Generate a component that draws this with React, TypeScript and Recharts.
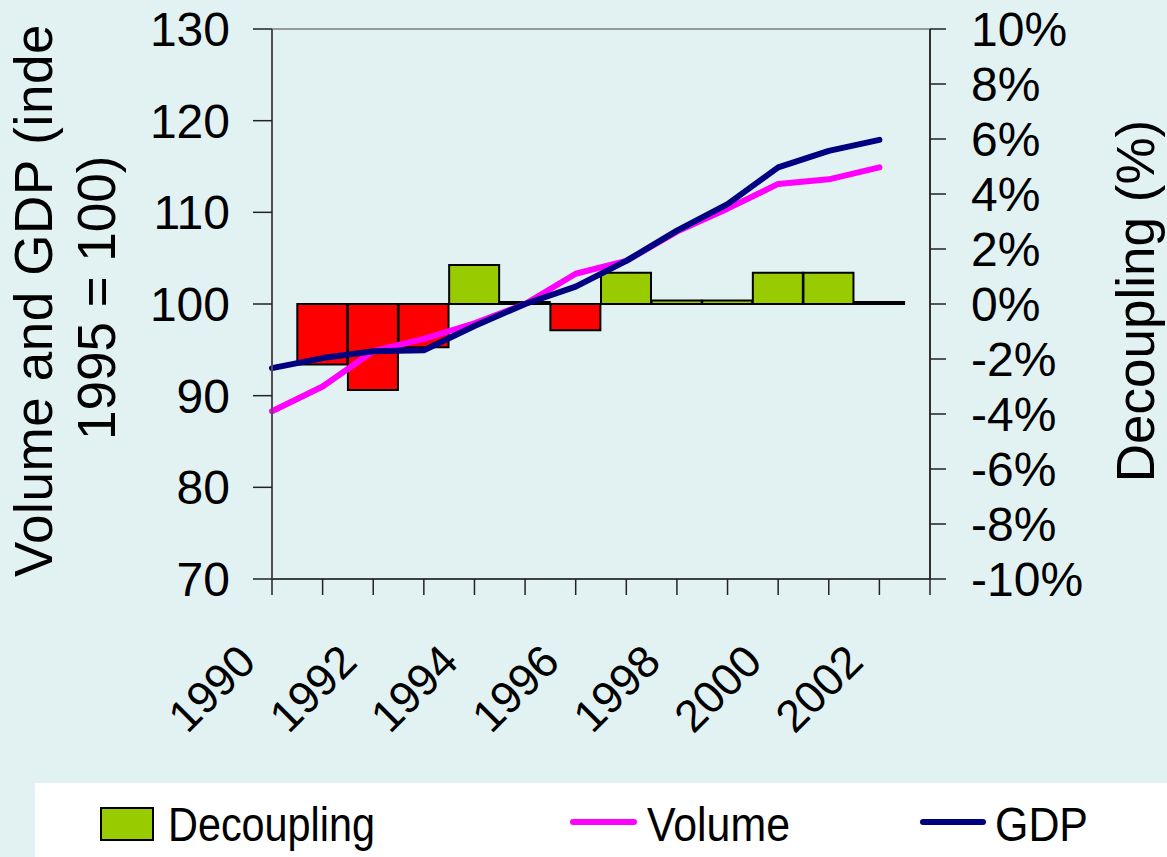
import React from 'react';
import { ComposedChart, Bar, Line, XAxis, YAxis, Cell, ReferenceLine } from 'recharts';

const FONT = '"Liberation Sans", Arial, Helvetica, sans-serif';

// Data
const years = [1990, 1991, 1992, 1993, 1994, 1995, 1996, 1997, 1998, 1999, 2000, 2001, 2002];
const volume = [88.3, 91.0, 94.85, 96.2, 97.9, 100, 103.3, 104.7, 107.9, 110.4, 113.1, 113.6, 114.9];
const gdp = [93.0, 94.1, 94.85, 94.95, 97.6, 100, 101.9, 104.7, 108.0, 110.9, 114.9, 116.7, 117.9];
const decoupling: (number | null)[] = [null, -2.2, -3.13, -1.57, 1.42, 0.07, -0.95, 1.14, 0.13, 0.13, 1.14, 1.14, 0.07];

const xTicks = [1990, 1991, 1992, 1993, 1994, 1995, 1996, 1997, 1998, 1999, 2000, 2001, 2002, 2003];
const leftTicks = [70, 80, 90, 100, 110, 120, 130];
const rightTicks = [-10, -8, -6, -4, -2, 0, 2, 4, 6, 8, 10];
const leftTitle = ['Volume and GDP (inde', '1995 = 100)'];
const rightTitle = 'Decoupling (%)';
const seriesNames = ['Decoupling', 'Volume', 'GDP'];

const COLORS = {
  bg: '#E2F2F3',
  pos: '#99CC00',
  neg: '#FF0000',
  volume: '#FF00FF',
  gdp: '#000080',
};

const data = years.map((y, i) => ({
  year: y,
  volume: volume[i],
  gdp: gdp[i],
  decoupling: decoupling[i],
}));

const XTick = (props: any) => {
  const { x, y, payload } = props;
  if (payload.value % 2 !== 0) return <g />;
  const ax = x - 14;
  const ay = y + 67;
  return (
    <text
      x={ax}
      y={ay}
      transform={`rotate(-45 ${ax} ${ay})`}
      textAnchor="end"
      fontSize={45}
      fill="#000"
      fontFamily={FONT}
    >
      {payload.value}
    </text>
  );
};

const LeftTitle = () => (
  <g fontFamily={FONT} fontSize={53} fill="#000">
    <text transform="translate(52,577) rotate(-90)" textAnchor="start" letterSpacing={0.6}>
      {leftTitle[0]}
    </text>
    <text transform="translate(115,440) rotate(-90)" textAnchor="start">
      {leftTitle[1]}
    </text>
  </g>
);

const RightTitle = () => (
  <text
    transform="translate(1154,301) rotate(-90)"
    textAnchor="middle"
    fontFamily={FONT}
    fontSize={53}
    fill="#000"
  >
    {rightTitle}
  </text>
);

const LegendBox = () => (
  <svg
    width={1167}
    height={857}
    style={{ position: 'absolute', left: 0, top: 0, pointerEvents: 'none' }}
  >
    <rect x={35} y={783} width={1132} height={74} fill="#FFFFFF" />
    <rect x={101} y={808} width={52} height={32} fill={COLORS.pos} stroke="#000" strokeWidth={2} />
    <text x={168} y={841} fontFamily={FONT} fontSize={49} textLength={207} lengthAdjust="spacingAndGlyphs" fill="#000">
      {seriesNames[0]}
    </text>
    <line x1={573} y1={822} x2={634} y2={822} stroke={COLORS.volume} strokeWidth={6} strokeLinecap="round" />
    <text x={647} y={841} fontFamily={FONT} fontSize={49} textLength={143} lengthAdjust="spacingAndGlyphs" fill="#000">
      {seriesNames[1]}
    </text>
    <line x1={923} y1={822} x2={983} y2={822} stroke={COLORS.gdp} strokeWidth={6} strokeLinecap="round" />
    <text x={995} y={841} fontFamily={FONT} fontSize={49} textLength={93} lengthAdjust="spacingAndGlyphs" fill="#000">
      {seriesNames[2]}
    </text>
  </svg>
);

export default function App() {
  return (
    <div
      style={{
        position: 'absolute',
        left: 0,
        top: 0,
        width: 1167,
        height: 857,
        background: COLORS.bg,
        fontFamily: FONT,
        overflow: 'hidden',
      }}
    >
      <ComposedChart
        width={1167}
        height={857}
        data={data}
        margin={{ top: 29, right: 137, bottom: 128, left: 172 }}
      >
        <XAxis
          dataKey="year"
          type="number"
          domain={[1990, 2003]}
          ticks={xTicks}
          interval={0}
          tickSize={16}
          tickMargin={2}
          height={150}
          axisLine={{ stroke: '#404040', strokeWidth: 2 }}
          tickLine={{ stroke: '#222', strokeWidth: 1.5 }}
          tick={<XTick />}
        />
        <YAxis
          yAxisId="left"
          orientation="left"
          domain={[70, 130]}
          ticks={leftTicks}
          interval={0}
          width={100}
          tickSize={19}
          tickMargin={23}
          axisLine={{ stroke: '#505050', strokeWidth: 2 }}
          tickLine={{ stroke: '#222', strokeWidth: 1.5 }}
          tick={{ fontSize: 48, fill: '#000', fontFamily: FONT }}
          label={<LeftTitle />}
        />
        <YAxis
          yAxisId="right"
          orientation="right"
          domain={[-10, 10]}
          ticks={rightTicks}
          interval={0}
          width={100}
          tickSize={16}
          tickMargin={25}
          tickFormatter={(v: number) => `${v}%`}
          axisLine={{ stroke: '#303030', strokeWidth: 2 }}
          tickLine={{ stroke: '#222', strokeWidth: 1.5 }}
          tick={{ fontSize: 48, fill: '#000', fontFamily: FONT }}
          label={<RightTitle />}
        />
        <ReferenceLine yAxisId="left" y={130} stroke="#999" strokeWidth={2} />
        <Bar
          dataKey="decoupling"
          yAxisId="right"
          barSize={50}
          stroke="#000"
          strokeWidth={2}
          isAnimationActive={false}
          name={seriesNames[0]}
        >
          {data.map((d, i) => (
            <Cell key={i} fill={d.decoupling !== null && d.decoupling < 0 ? COLORS.neg : COLORS.pos} />
          ))}
        </Bar>
        <Line
          dataKey="volume"
          yAxisId="left"
          type="linear"
          stroke={COLORS.volume}
          strokeWidth={6}
          strokeLinecap="round"
          strokeLinejoin="round"
          dot={false}
          activeDot={false}
          isAnimationActive={false}
          name={seriesNames[1]}
        />
        <Line
          dataKey="gdp"
          yAxisId="left"
          type="linear"
          stroke={COLORS.gdp}
          strokeWidth={6}
          strokeLinecap="round"
          strokeLinejoin="round"
          dot={false}
          activeDot={false}
          isAnimationActive={false}
          name={seriesNames[2]}
        />
      </ComposedChart>
      <LegendBox />
    </div>
  );
}
